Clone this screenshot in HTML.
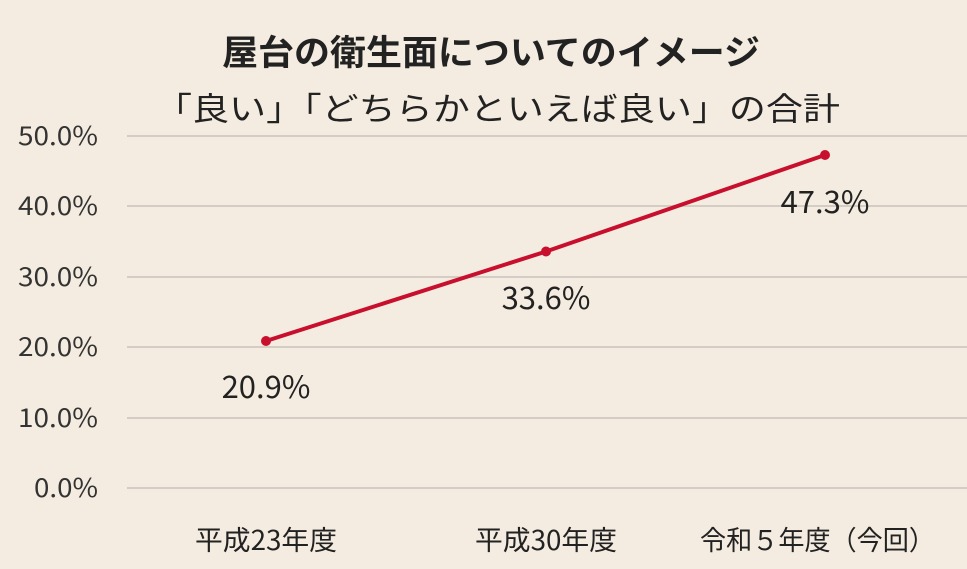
<!DOCTYPE html>
<html><head><meta charset="utf-8"><style>
html,body{margin:0;padding:0;background:#f4ece0;}
svg{display:block;font-family:"Liberation Sans","Noto Sans CJK JP",sans-serif;}
</style></head><body>
<svg width="967" height="569" viewBox="0 0 967 569">
<rect width="967" height="569" fill="#f4ece0"/>
<text x="222" y="65" textLength="538" lengthAdjust="spacingAndGlyphs" font-size="35" font-weight="bold" fill="#222" font-family="Noto Sans CJK JP,sans-serif">屋台の衛生面についてのイメージ</text>
<text x="155" y="120" textLength="685" lengthAdjust="spacingAndGlyphs" font-size="32" fill="#222" font-family="Noto Sans CJK JP,sans-serif">「良い」「どちらかといえば良い」の合計</text>
<g stroke="#d4cdc6" stroke-width="2">
<line x1="127" x2="967" y1="136" y2="136"/>
<line x1="127" x2="967" y1="206" y2="206"/>
<line x1="127" x2="967" y1="277" y2="277"/>
<line x1="127" x2="967" y1="347" y2="347"/>
<line x1="127" x2="967" y1="418" y2="418"/>
<line x1="127" x2="967" y1="488" y2="488"/>
</g>
<g font-size="26" fill="#333" font-family="Noto Sans CJK JP,sans-serif">
<text x="18" y="145" textLength="80" lengthAdjust="spacingAndGlyphs">50.0%</text>
<text x="18" y="215" textLength="80" lengthAdjust="spacingAndGlyphs">40.0%</text>
<text x="18" y="286" textLength="80" lengthAdjust="spacingAndGlyphs">30.0%</text>
<text x="18" y="356" textLength="80" lengthAdjust="spacingAndGlyphs">20.0%</text>
<text x="18" y="427" textLength="80" lengthAdjust="spacingAndGlyphs">10.0%</text>
<text x="34" y="497" textLength="64" lengthAdjust="spacingAndGlyphs">0.0%</text>
</g>
<g font-size="27" fill="#222" font-family="Noto Sans CJK JP,sans-serif">
<text x="195" y="550" textLength="142" lengthAdjust="spacingAndGlyphs">平成23年度</text>
<text x="475" y="550" textLength="142" lengthAdjust="spacingAndGlyphs">平成30年度</text>
<text x="700" y="550" textLength="235" lengthAdjust="spacingAndGlyphs">令和５年度（今回）</text>
</g>
<polyline points="266,341 546,251.5 825,155" fill="none" stroke="#c8102e" stroke-width="4"/>
<g fill="#c8102e"><circle cx="266" cy="341" r="5"/><circle cx="546" cy="251.5" r="5"/><circle cx="825" cy="155" r="5"/></g>
<g font-size="31" fill="#222" text-anchor="middle" font-family="Noto Sans CJK JP,sans-serif">
<text x="266" y="398">20.9%</text>
<text x="546" y="309">33.6%</text>
<text x="825" y="213">47.3%</text>
</g>
</svg>
</body></html>
